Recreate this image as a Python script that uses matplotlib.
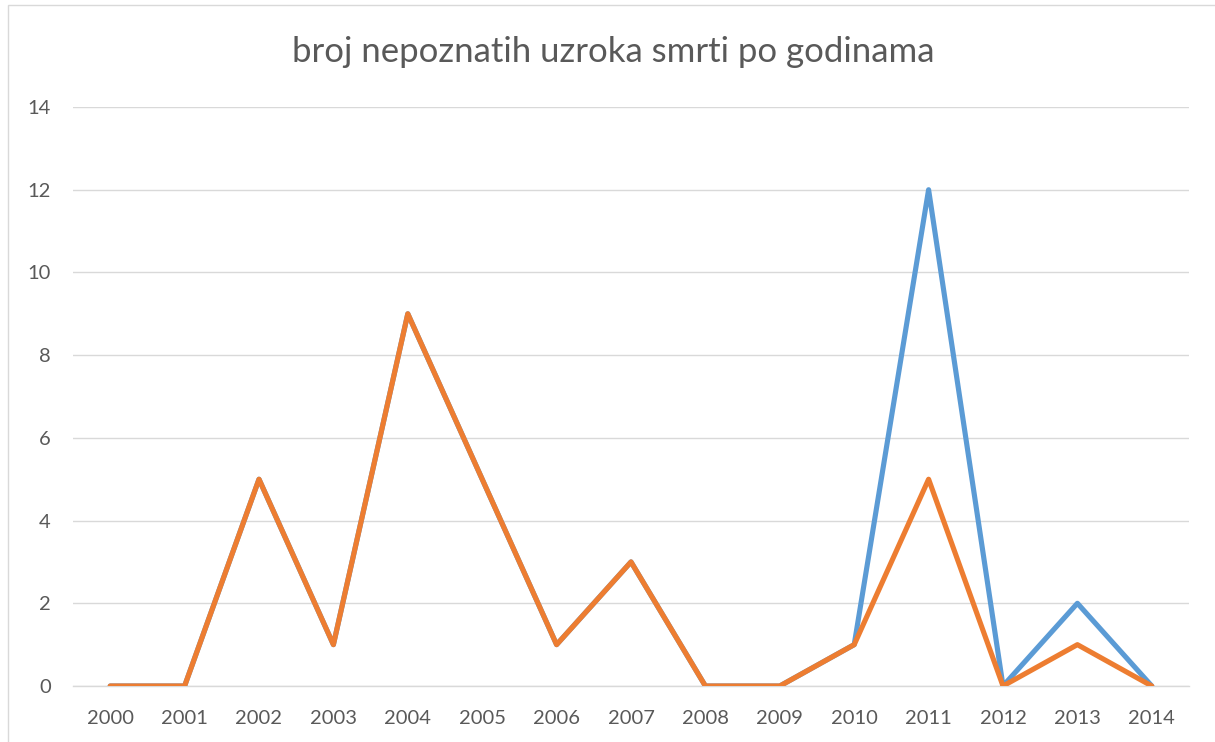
import matplotlib
matplotlib.use("Agg")
import matplotlib.pyplot as plt
from matplotlib.patches import Rectangle

years = [str(y) for y in range(2000, 2015)]
series_blue = [0, 0, 5, 1, 9, 5, 1, 3, 0, 0, 1, 12, 0, 2, 0]
series_orange = [0, 0, 5, 1, 9, 5, 1, 3, 0, 0, 1, 5, 0, 1, 0]
yticks = [0, 2, 4, 6, 8, 10, 12, 14]
title = "broj nepoznatih uzroka smrti po godinama"

plt.rcParams['font.family'] = ['Lato', 'DejaVu Sans']
fig = plt.figure(figsize=(12.15, 7.42), dpi=100)
W, H = 1215, 742
ax = fig.add_axes([73 / W, 1 - 686 / H, (1189 - 73) / W, (686 - 107) / H])

x = list(range(len(years)))
ax.plot(x, series_blue, color='#5b9bd5', lw=3.7, solid_joinstyle='round', solid_capstyle='round', zorder=3)
ax.plot(x, series_orange, color='#ed7d31', lw=3.7, solid_joinstyle='round', solid_capstyle='round', zorder=4)

ax.set_xlim(-0.5, len(years) - 0.5)
ax.set_ylim(0, 14)
ax.set_yticks(yticks)
ax.set_xticks(x)
ax.set_xticklabels(years)
ax.grid(axis='y', color='#d9d9d9', lw=1.0)
ax.set_axisbelow(True)
for s in ['top', 'right', 'left']:
    ax.spines[s].set_visible(False)
ax.spines['bottom'].set_color('#d9d9d9')
ax.spines['bottom'].set_linewidth(1.0)
ax.tick_params(length=0, labelsize=14.5, colors='#595959')
ax.tick_params(axis='x', pad=17)
ax.tick_params(axis='y', pad=16)

fig.text(613 / W, 1 - 52 / H, title, ha='center', va='center', fontsize=25, color='#595959')

fig.patches.append(Rectangle((8 / W, -0.1), 1.2, 1.1 - 5 / H, transform=fig.transFigure,
                             fill=False, edgecolor='#d9d9d9', lw=1.0))

fig.savefig('out.png', dpi=100)
